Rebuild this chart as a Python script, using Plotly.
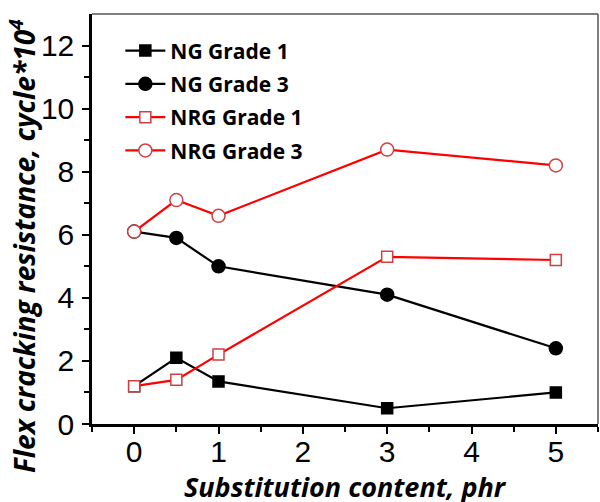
import plotly.graph_objects as go

x = [0, 0.5, 1, 3, 5]
ng1 = [1.2, 2.1, 1.35, 0.5, 1.0]
ng3 = [6.1, 5.9, 5.0, 4.1, 2.4]
nrg1 = [1.2, 1.4, 2.2, 5.3, 5.2]
nrg3 = [6.1, 7.1, 6.6, 8.7, 8.2]
names = ["NG Grade 1", "NG Grade 3", "NRG Grade 1", "NRG Grade 3"]
xticks = [0, 1, 2, 3, 4, 5]
yticks = [0, 2, 4, 6, 8, 10, 12]

fig = go.Figure()
specs = [
    (ng1, "black", "square", "black"),
    (ng3, "black", "circle", "black"),
    (nrg1, "red", "square", "white"),
    (nrg3, "red", "circle", "white"),
]
for name, (y, col, sym, fill) in zip(names, specs):
    fig.add_trace(go.Scatter(
        x=x, y=y, name=name, legendgroup=name, mode="lines+markers",
        line=dict(color=col, width=2.2),
        marker=dict(symbol=sym, size=13 if sym == "circle" else 11, color=fill,
                    line=dict(color="#d04040" if col == "red" else "black", width=1.5)),
    ))

fig.update_layout(
    width=600, height=502,
    margin=dict(l=92, r=2, t=14, b=78),
    paper_bgcolor="white", plot_bgcolor="white",
    showlegend=True,
    legend=dict(x=0.056, y=0.96, xanchor="left", yanchor="top",
                font=dict(family="Open Sans", size=21, color="black", weight="bold"),
                bgcolor="rgba(0,0,0,0)", tracegroupgap=3, itemwidth=40),
    xaxis=dict(range=[-0.5, 5.5], tickvals=xticks,
               ticks="outside", ticklen=7, tickwidth=2, tickcolor="black",
               minor=dict(tickvals=[-0.5, 0.5, 1.5, 2.5, 3.5, 4.5, 5.5], ticks="outside", ticklen=5, tickwidth=2, tickcolor="black"),
               showline=True, linecolor="black", linewidth=2.5, mirror=False,
               showgrid=False, zeroline=False, ticklabelstandoff=-8,
               tickfont=dict(family="Liberation Sans", size=30, color="black")),
    yaxis=dict(range=[0, 13], tickvals=yticks,
               ticks="outside", ticklen=7, tickwidth=2, tickcolor="black",
               minor=dict(tickvals=[1, 3, 5, 7, 9, 11], ticks="outside", ticklen=5, tickwidth=2, tickcolor="black"),
               showline=True, linecolor="black", linewidth=2.5,
               showgrid=False, zeroline=False, ticklabelstandoff=2,
               tickfont=dict(family="Liberation Sans", size=30, color="black")),
)
# axis titles
fig.add_annotation(text="<i>Substitution content, phr</i>", xref="paper", yref="paper",
                   x=0.5, y=0, xanchor="center", yanchor="middle", yshift=-62, showarrow=False,
                   font=dict(family="Open Sans", size=27, color="black", weight="bold"))
fig.add_annotation(text="<i>Flex cracking resistance, cycle*10<sup>4</sup></i>", xref="paper", yref="paper",
                   x=0, y=0.434, xanchor="center", yanchor="middle", xshift=-70, textangle=-90, showarrow=False,
                   font=dict(family="Open Sans", size=28, color="black", weight="bold"))
# top and right frame lines
fig.add_shape(type="line", xref="paper", yref="paper", x0=0, x1=1, y0=1, y1=1, line=dict(color="#555", width=1.5))
fig.add_shape(type="line", xref="paper", yref="paper", x0=1, x1=1, y0=0, y1=1, line=dict(color="#555", width=1.5))

fig.write_html("out.html")
